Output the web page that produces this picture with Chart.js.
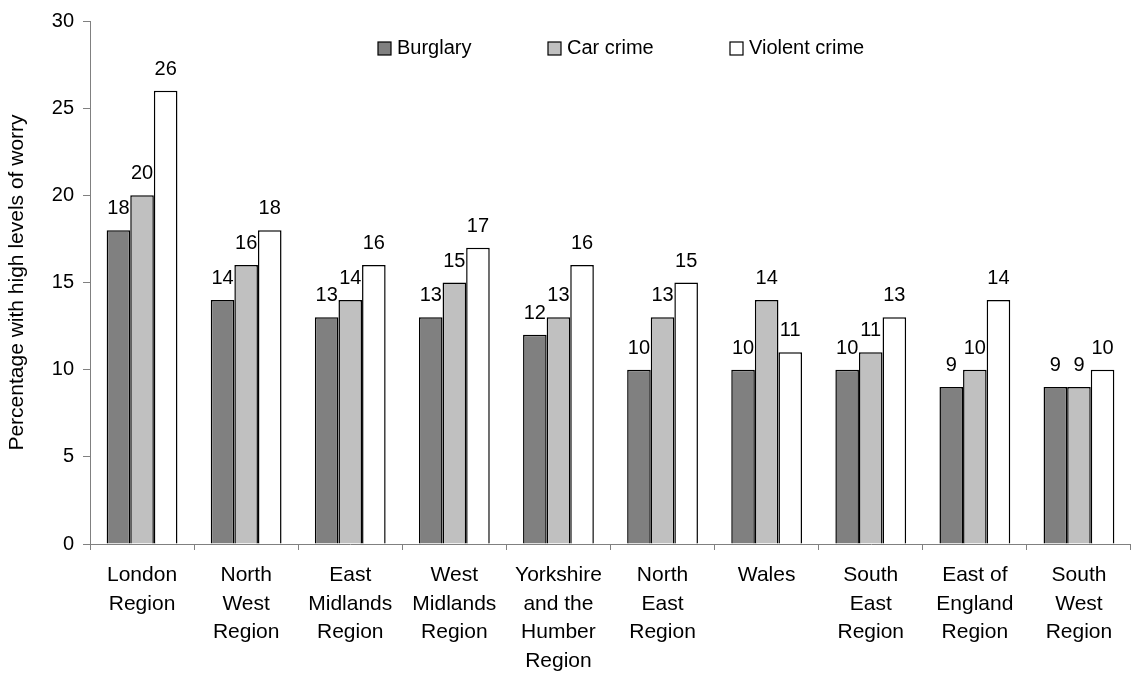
<!DOCTYPE html>
<html>
<head>
<meta charset="utf-8">
<script src="https://cdn.jsdelivr.net/npm/chart.js@4"></script>
<style>
  body { margin: 0; background: #fff; }
</style>
</head>
<body>
<canvas id="chart_worry" width="1131" height="674"></canvas>
<script>
const regions = [
  ["London", "Region"],
  ["North", "West", "Region"],
  ["East", "Midlands", "Region"],
  ["West", "Midlands", "Region"],
  ["Yorkshire", "and the", "Humber", "Region"],
  ["North", "East", "Region"],
  ["Wales"],
  ["South", "East", "Region"],
  ["East of", "England", "Region"],
  ["South", "West", "Region"],
];
const burglary = [18, 14, 13, 13, 12, 10, 10, 10, 9, 9];
const carCrime = [20, 16, 14, 15, 13, 13, 14, 11, 10, 9];
const violentCrime = [26, 18, 16, 17, 16, 15, 11, 13, 14, 10];
const yTicks = [0, 5, 10, 15, 20, 25, 30];

const FONT = "'Liberation Sans', Arial, sans-serif";

// value labels above each bar
const barLabels = {
  id: "barLabels",
  afterDatasetsDraw(chart) {
    const ctx = chart.ctx;
    ctx.save();
    ctx.font = "20px " + FONT;
    ctx.fillStyle = "#000";
    ctx.textAlign = "center";
    ctx.textBaseline = "alphabetic";
    chart.data.datasets.forEach((ds, i) => {
      chart.getDatasetMeta(i).data.forEach((bar, j) => {
        ctx.fillText(ds.data[j], bar.x, bar.y - 16);
      });
    });
    ctx.restore();
  },
};

// legend drawn inside the plot area, on one row
const insideLegend = {
  id: "insideLegend",
  afterDraw(chart) {
    const ctx = chart.ctx;
    const xs = [378, 548, 730];
    const y = 48;
    ctx.save();
    ctx.font = "20px " + FONT;
    ctx.textBaseline = "middle";
    ctx.textAlign = "left";
    chart.data.datasets.forEach((ds, i) => {
      ctx.fillStyle = ds.backgroundColor;
      ctx.fillRect(xs[i], y - 6, 13, 13);
      ctx.strokeStyle = "#000";
      ctx.lineWidth = 1.2;
      ctx.strokeRect(xs[i], y - 6, 13, 13);
      ctx.fillStyle = "#000";
      ctx.fillText(ds.label, xs[i] + 19, y);
    });
    ctx.restore();
  },
};

new Chart(document.getElementById("chart_worry"), {
  type: "bar",
  data: {
    labels: regions,
    datasets: [
      {
        label: "Burglary",
        data: burglary,
        backgroundColor: "#808080",
      },
      {
        label: "Car crime",
        data: carCrime,
        backgroundColor: "#c0c0c0",
      },
      {
        label: "Violent crime",
        data: violentCrime,
        backgroundColor: "#ffffff",
      },
    ],
  },
  options: {
    responsive: false,
    animation: false,
    devicePixelRatio: 1,
    layout: {
      padding: { top: 18, right: 0, left: 0, bottom: 0 },
    },
    datasets: {
      bar: {
        borderColor: "#000",
        borderWidth: 1.5,
        categoryPercentage: 0.68,
        barPercentage: 1,
      },
    },
    scales: {
      x: {
        grid: {
          drawOnChartArea: false,
          tickLength: 6,
          color: "#808080",
        },
        border: { color: "#808080" },
        ticks: {
          color: "#000",
          font: { family: FONT, size: 21, lineHeight: 1.36 },
          padding: 11,
          maxRotation: 0,
          autoSkip: false,
        },
        afterFit(scale) {
          scale.height = 130;
        },
      },
      y: {
        min: 0,
        max: 30,
        afterBuildTicks(scale) {
          scale.ticks = yTicks.map((v) => ({ value: v }));
        },
        grid: {
          drawOnChartArea: false,
          tickLength: 7,
          color: "#808080",
        },
        border: { color: "#808080" },
        ticks: {
          color: "#000",
          font: { family: FONT, size: 20 },
          padding: 9,
        },
        title: {
          display: true,
          text: "Percentage with high levels of worry",
          color: "#000",
          font: { family: FONT, size: 21 },
          padding: { top: 5, bottom: 0 },
        },
        afterFit(scale) {
          scale.width = 90;
        },
      },
    },
    plugins: {
      legend: { display: false },
      tooltip: { enabled: false },
    },
  },
  plugins: [barLabels, insideLegend],
});
</script>
</body>
</html>
